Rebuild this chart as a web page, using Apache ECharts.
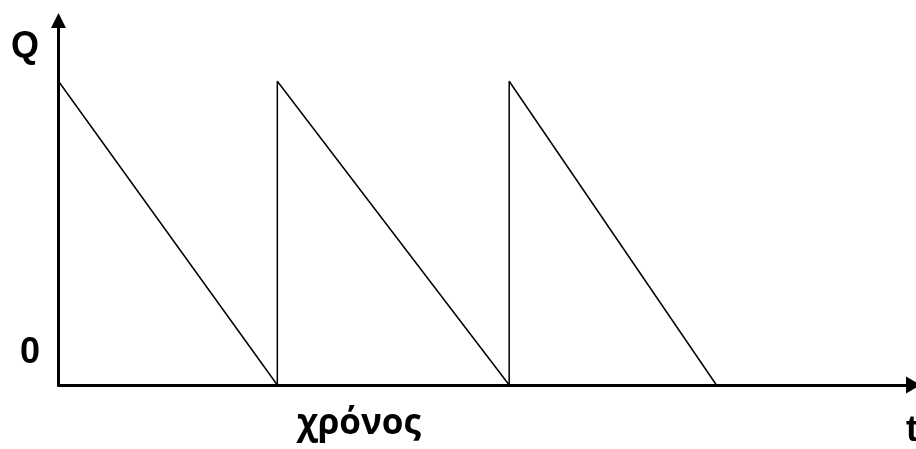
<!DOCTYPE html>
<html>
<head>
<meta charset="utf-8">
<script src="https://cdn.jsdelivr.net/npm/echarts@6/dist/echarts.min.js"></script>
<style>
  html, body { margin: 0; padding: 0; background: #fff; }
  #chart { width: 916px; height: 449px; }
</style>
</head>
<body>
<div id="chart"></div>
<script>
// sawtooth: stock Q falls to 0, then jumps back up
var tPoints = [0, 3.02, 3.02, 6.22, 6.22, 9.08];
var qPoints = [1, 0, 1, 0, 1, 0];
var tMax = 11.8;
var qMax = 1.2;
var labels = { q: 'Q', zero: '0', time: 'χρόνος', t: 't' };

var chart = echarts.init(document.getElementById('chart'));

var sawData = tPoints.map(function (t, i) { return [t, qPoints[i]]; });

var boldArial = '"Liberation Sans", Arial, sans-serif';

chart.setOption({
    animation: false,
    backgroundColor: '#fff',
    grid: { left: 58.5, right: 2.5, top: 20.5, bottom: 64 },
    xAxis: {
        type: 'value',
        min: 0,
        max: tMax,
        splitLine: { show: false },
        axisTick: { show: false },
        axisLabel: { show: false },
        axisLine: {
            show: true,
            symbol: ['none', 'triangle'],
            symbolSize: [17, 15],
            lineStyle: { color: '#000', width: 3 }
        }
    },
    yAxis: {
        type: 'value',
        min: 0,
        max: qMax,
        splitLine: { show: false },
        axisTick: { show: false },
        axisLabel: { show: false },
        axisLine: {
            show: true,
            symbol: ['none', 'triangle'],
            symbolSize: [15, 15],
            lineStyle: { color: '#000', width: 3 }
        }
    },
    series: [{
        type: 'line',
        data: sawData,
        showSymbol: false,
        lineStyle: { color: '#000', width: 1.5 }
    }],
    graphic: [
        { type: 'text', left: 11, top: 29,
          style: { text: labels.q, font: 'bold 36px ' + boldArial, fill: '#000' } },
        { type: 'text', left: 20, top: 335,
          style: { text: labels.zero, font: 'bold 36px ' + boldArial, fill: '#000' } },
        { type: 'text', left: 297, top: 407,
          style: { text: labels.time, font: 'bold 35px "Open Sans", sans-serif', fill: '#000' } },
        { type: 'text', left: 906, top: 413,
          style: { text: labels.t, font: 'bold 36px ' + boldArial, fill: '#000' } }
    ]
});
</script>
</body>
</html>
